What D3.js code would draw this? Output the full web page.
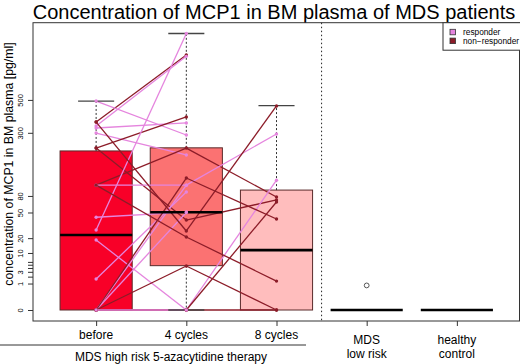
<!DOCTYPE html>
<html><head><meta charset="utf-8">
<script src="https://cdn.jsdelivr.net/npm/d3@7"></script>
<style>body{margin:0;background:#fff}svg{display:block}text{font-family:"Liberation Sans",Arial,sans-serif;fill:#000}</style>
</head><body><svg width="520" height="364"></svg>
<script>
// ---------- data ----------
const groups = ["before", "4 cycles", "8 cycles", "MDS|low risk", "healthy|control"];
const boxLow    = [0, 0, 0, 0, 0];
const boxQ1     = [0, 4.7, 0, 0, 0];
const boxMedian = [22.8, 50.3, 11.6, 0, 0];
const boxQ3     = [217, 230, 93, 0, 0];
const boxHigh   = [492, 1140, 460, 0, 0];
const outlierGroup = [4];
const outlierValue = [0.8];
const yTicks      = [0, 1, 2, 3, 4, 5, 6, 10, 20, 50, 80, 300, 500];
const yTickLabels = ["0", "1", "", "3", "", "", "", "10", "20", "50", "80", "300", "500"];
// paired patient values (before, after 4 cycles, after 8 cycles)
const patientBefore = [358, 336, 492, 325, 299, 229, 229, 105, 105, 43, 27.6, 18.5, 1.6, 0, 0, 358, 105, 0, 0, 0, 0, 0];
const patientC4     = [894, 880, 289, 353, 201, 388, 39.3, 229, 105, 50.7, 1140, 0, 88.6, 105, 50, 26.6, 21, 124, 4.6, 0, 0, 0];
const patientC8     = [null, null, null, null, null, null, 71.8, 77.8, 294, null, null, 118, null, null, null, 458, 1.3, 40.6, 0, 67.9, 0, null];
const patientResponder = [0, 1, 1, 1, 1, 0, 0, 0, 1, 1, 1, 1, 1, 1, 1, 0, 0, 0, 0, 0, 0, 1];
const legendLabels = ["responder", "non\u2212responder"];

// ---------- styles ----------
const boxFills = ["#F80028", "#FB7272", "#FFBDBD", "#ffffff", "#ffffff"];
const colResp = "#E585DE";
const colNon = "#8C1C28";

const svg = d3.select("svg");
const x = d3.scaleLinear().domain([0.3, 5.7]).range([33, 520]);
const y = d3.scalePow().exponent(1 / 3).domain([0, 1140]).range([310, 33.5]);
const plotTop = 22.7, plotBottom = 321, plotLeft = 33, plotRight = 519.5;
const bw = (x(1.4) - x(1)) ; // half box width
const cap = bw / 2;

// title
svg.append("text").attr("x", 274).attr("y", 18.5).attr("text-anchor", "middle")
  .attr("font-size", 20).text("Concentration of MCP1 in BM plasma of MDS patients");

// boxes
const idx = d3.range(groups.length);
const gb = svg.append("g");
idx.forEach(i => {
  const cx = x(i + 1);
  if (boxQ3[i] > boxQ1[i]) {
    gb.append("rect").attr("x", cx - bw).attr("width", 2 * bw)
      .attr("y", y(boxQ3[i])).attr("height", y(boxQ1[i]) - y(boxQ3[i]))
      .attr("fill", boxFills[i]).attr("stroke", "#5a2a2a").attr("stroke-width", 1);
  }
});

// separator
svg.append("line").attr("x1", x(3.5)).attr("x2", x(3.5)).attr("y1", plotTop).attr("y2", plotBottom)
  .attr("stroke", "#222").attr("stroke-dasharray", "1.5,2.5").attr("stroke-width", 1);

// patient lines
const gl = svg.append("g").attr("fill", "none").attr("stroke-width", 1.3);
const series = [patientBefore, patientC4, patientC8];
patientBefore.forEach((_, p) => {
  for (let t = 0; t < 2; t++) {
    const a = series[t][p], b = series[t + 1][p];
    if (a == null || b == null) continue;
    gl.append("line").attr("x1", x(t + 1)).attr("y1", y(a)).attr("x2", x(t + 2)).attr("y2", y(b))
      .attr("stroke", patientResponder[p] ? colResp : colNon);
  }
});

// whiskers, caps, medians
idx.forEach(i => {
  const cx = x(i + 1);
  if (boxHigh[i] > boxQ3[i]) {
    svg.append("line").attr("x1", cx).attr("x2", cx).attr("y1", y(boxQ3[i])).attr("y2", y(boxHigh[i]))
      .attr("stroke", "#333").attr("stroke-dasharray", "2,2");
    svg.append("line").attr("x1", cx - cap).attr("x2", cx + cap).attr("y1", y(boxHigh[i])).attr("y2", y(boxHigh[i]))
      .attr("stroke", "#444").attr("stroke-width", 1.3);
  }
  if (boxQ1[i] > boxLow[i]) {
    svg.append("line").attr("x1", cx).attr("x2", cx).attr("y1", y(boxQ1[i])).attr("y2", y(boxLow[i]))
      .attr("stroke", "#333").attr("stroke-dasharray", "2,2");
    svg.append("line").attr("x1", cx - cap).attr("x2", cx + cap).attr("y1", y(boxLow[i])).attr("y2", y(boxLow[i]))
      .attr("stroke", "#444").attr("stroke-width", 1.3);
  }
  svg.append("line").attr("x1", cx - bw).attr("x2", cx + bw).attr("y1", y(boxMedian[i])).attr("y2", y(boxMedian[i]))
    .attr("stroke", "#000").attr("stroke-width", 2.6);
});

// patient points
const gp = svg.append("g");
patientBefore.forEach((_, p) => {
  series.forEach((s, t) => {
    if (s[p] == null) return;
    gp.append("circle").attr("cx", x(t + 1)).attr("cy", y(s[p])).attr("r", 1.7)
      .attr("fill", patientResponder[p] ? colResp : colNon);
  });
});

// outliers
outlierGroup.forEach((g, k) => {
  svg.append("circle").attr("cx", x(g)).attr("cy", y(outlierValue[k])).attr("r", 2.4)
    .attr("fill", "none").attr("stroke", "#444").attr("stroke-width", 0.9);
});

// frame
svg.append("rect").attr("x", plotLeft).attr("y", plotTop).attr("width", plotRight - plotLeft)
  .attr("height", plotBottom - plotTop).attr("fill", "none").attr("stroke", "#333").attr("stroke-width", 1);

// y axis
const yAxis = d3.axisLeft(y).tickValues(yTicks).tickSize(5).tickFormat((d, i) => yTickLabels[i]);
const ga = svg.append("g").attr("transform", `translate(${plotLeft},0)`).call(yAxis);
ga.select(".domain").remove();
ga.selectAll(".tick line").attr("stroke", "#333");
ga.selectAll(".tick text").attr("font-size", 7.5).attr("font-family", "Liberation Sans, Arial, sans-serif")
  .attr("transform", "rotate(-90)").attr("x", 0).attr("y", 0).attr("dy", null)
  .attr("text-anchor", "middle")
  .each(function () {
    const t = d3.select(this.parentNode).attr("transform");
    const ty = +t.match(/translate\(([^,]+),([^)]+)\)/)[2];
    d3.select(this).attr("transform", `translate(-10,0) rotate(-90)`);
  });

svg.append("text").attr("transform", "translate(13,164) rotate(-90)").attr("text-anchor", "middle")
  .attr("font-size", 12.3).text("concentration of MCP1 in BM plasma [pg/ml]");

// x axis
const xAxis = d3.axisBottom(x).tickValues([1, 2, 3, 4, 5]).tickSize(5).tickFormat("");
const gx = svg.append("g").attr("transform", `translate(0,${plotBottom})`).call(xAxis);
gx.select(".domain").remove();
gx.selectAll(".tick line").attr("stroke", "#333");
groups.forEach((g, i) => {
  const parts = g.split("|");
  if (parts.length === 1) {
    svg.append("text").attr("x", x(i + 1)).attr("y", 339).attr("text-anchor", "middle").attr("font-size", 12).text(parts[0]);
  } else {
    parts.forEach((p, k) => svg.append("text").attr("x", x(i + 1)).attr("y", 344 + k * 13.5)
      .attr("text-anchor", "middle").attr("font-size", 12).text(p));
  }
});
svg.append("line").attr("x1", 0).attr("x2", 306).attr("y1", 345).attr("y2", 345).attr("stroke", "#333");
svg.append("text").attr("x", 171).attr("y", 360.5).attr("text-anchor", "middle").attr("font-size", 12)
  .text("MDS high risk 5-azacytidine therapy");

// legend
const lg = svg.append("g");
lg.append("rect").attr("x", 443).attr("y", plotTop).attr("width", 80).attr("height", 27.5)
  .attr("fill", "#fff").attr("stroke", "#333");
legendLabels.forEach((l, i) => {
  lg.append("rect").attr("x", 450).attr("y", 29.3 + i * 8.8).attr("width", 5.5).attr("height", 5.5)
    .attr("fill", i === 0 ? colResp : colNon).attr("stroke", "#333").attr("stroke-width", 0.8);
  lg.append("text").attr("x", 463).attr("y", 35 + i * 8.8).attr("font-size", 8.3).text(l);
});
</script></body></html>
